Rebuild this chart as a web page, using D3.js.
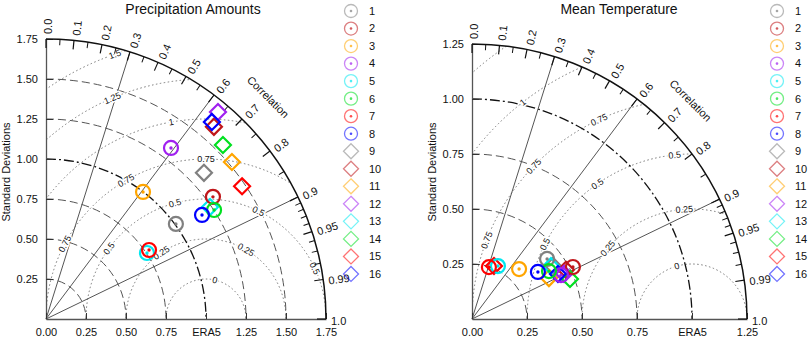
<!DOCTYPE html>
<html>
<head>
<meta charset="utf-8">
<script src="https://cdn.jsdelivr.net/npm/d3@7"></script>
<style>
body { margin: 0; background: #fff; }
svg { font-family: "Liberation Sans", Arial, sans-serif; }
</style>
</head>
<body>
<div id="chart"></div>
<script>
// model names and styles
const models = ["1", "2", "3", "4", "5", "6", "7", "8", "9", "10", "11", "12", "13", "14", "15", "16"];
const baseColors = ["#808080", "#c0161a", "#ffa500", "#a020f0", "#00e8f0", "#00e020", "#ff0000", "#0000ff"];
const modelColors = baseColors.concat(baseColors);
const modelShapes = models.map((d, i) => i < 8 ? "circle" : "diamond");

// precipitation: std dev (normalised) and correlation
const precipStd  = [1.006, 1.293, 0.999, 1.324, 0.754, 1.252, 0.775, 1.172,
                    1.345, 1.595, 1.521, 1.682, 1.241, 1.551, 1.480, 1.610];
const precipCorr = [0.807, 0.807, 0.607, 0.590, 0.837, 0.839, 0.831, 0.832,
                    0.734, 0.658, 0.764, 0.639, 0.826, 0.713, 0.828, 0.644];

// mean temperature
const tempStd  = [0.437, 0.516, 0.312, 0.451, 0.268, 0.412, 0.248, 0.368,
                  0.440, 0.482, 0.396, 0.466, 0.432, 0.481, 0.261, 0.441];
const tempCorr = [0.781, 0.889, 0.686, 0.897, 0.440, 0.849, 0.310, 0.814,
                  0.836, 0.886, 0.883, 0.898, 0.831, 0.926, 0.383, 0.886];

// correlation axis
const corrTicks = [0, 0.1, 0.2, 0.3, 0.4, 0.5, 0.6, 0.7, 0.8, 0.9, 0.95, 0.99, 1.0];
const corrTickLabels = ["0.0", "0.1", "0.2", "0.3", "0.4", "0.5", "0.6", "0.7", "0.8", "0.9", "0.95", "0.99", "1.0"];
const corrMinor = [0.05, 0.15, 0.25, 0.35, 0.45, 0.55, 0.65, 0.75, 0.85,
                   0.91, 0.92, 0.93, 0.94, 0.96, 0.97, 0.98];
const corrLines = [0.3, 0.6, 0.9];

const panels = [
    {
        id: "pr", title: "Precipitation Amounts", std: precipStd, corr: precipCorr,
        ox: 46, oy: 319, R: 280, maxStd: 1.75,
        yTicks: [0.25, 0.5, 0.75, 1, 1.25, 1.5, 1.75],
        xTicks: [0, 0.25, 0.5, 0.75, 1, 1.25, 1.5, 1.75],
        sdArcs: [0.25, 0.5, 0.75, 1, 1.25, 1.5],
        rmsRadii: [0.25, 0.5, 0.75, 1, 1.25, 1.5, 1.75],
        rmsLabels: [[0.25, 77], [0.5, 124], [0.5, 60], [0.75, 144], [0.75, 105], [0.75, 64], [0.75, 25],
                    [1, 152], [1, 120], [1, 90], [1.25, 100], [1.5, 113], [1.75, 109]]
    },
    {
        id: "tas", title: "Mean Temperature", std: tempStd, corr: tempCorr,
        ox: 472, oy: 319, R: 275, maxStd: 1.25,
        yTicks: [0.25, 0.5, 0.75, 1, 1.25],
        xTicks: [0, 0.25, 0.5, 0.75, 1, 1.25],
        sdArcs: [0.25, 0.5, 0.75, 1],
        rmsRadii: [0.25, 0.5, 0.75, 1, 1.25, 1.5],
        rmsLabels: [[0.25, 106], [0.5, 94], [0.5, 140], [0.75, 125], [0.75, 153], [0.75, 96],
                    [1, 115], [1, 159], [1, 136], [1.25, 128]]
    }
];

const svg = d3.select("#chart").append("svg")
    .attr("width", 809)
    .attr("height", 338);

const quarterArc = rr => `M0,${-rr}A${rr},${rr} 0 0 1 ${rr},0`;
const diamondPath = s => `M0,${-s}L${s},0L0,${s}L${-s},0Z`;

function drawPanel(cfg) {
    const R = cfg.R;
    const r = d3.scaleLinear().domain([0, cfg.maxStd]).range([0, R]);
    const g = svg.append("g").attr("transform", `translate(${cfg.ox},${cfg.oy})`);

    // clip to the quarter disc
    const clipId = "clip-" + cfg.id;
    g.append("clipPath").attr("id", clipId)
        .append("path")
        .attr("d", `M0,0L0,${-R}A${R},${R} 0 0 1 ${R},0Z`);

    // centred RMS circles around the reference
    const rmsG = g.append("g").attr("clip-path", `url(#${clipId})`);
    rmsG.selectAll("circle")
        .data(cfg.rmsRadii)
        .join("circle")
        .attr("cx", r(1))
        .attr("cy", 0)
        .attr("r", d => r(d))
        .attr("fill", "none")
        .attr("stroke", "#777")
        .attr("stroke-width", 1)
        .attr("stroke-dasharray", "1.5,2.5");

    // std dev arcs
    g.selectAll(".sd-arc")
        .data(cfg.sdArcs)
        .join("path")
        .attr("class", "sd-arc")
        .attr("d", d => quarterArc(r(d)))
        .attr("fill", "none")
        .attr("stroke", d => d === 1 ? "#111" : "#555")
        .attr("stroke-width", d => d === 1 ? 1.3 : 1)
        .attr("stroke-dasharray", d => d === 1 ? "10,3,2,3" : "8,4");

    // correlation rays
    g.selectAll(".corr-line")
        .data(corrLines)
        .join("line")
        .attr("class", "corr-line")
        .attr("x1", 0).attr("y1", 0)
        .attr("x2", d => R * d)
        .attr("y2", d => -R * Math.sin(Math.acos(d)))
        .attr("stroke", "#555")
        .attr("stroke-width", 1);

    // RMS labels
    g.selectAll(".rms-label")
        .data(cfg.rmsLabels)
        .join("text")
        .attr("class", "rms-label")
        .attr("transform", d => {
            const phi = d[1] * Math.PI / 180;
            const x = r(1) + r(d[0]) * Math.cos(phi);
            const y = -r(d[0]) * Math.sin(phi);
            return `translate(${x},${y}) rotate(${90 - d[1]})`;
        })
        .attr("text-anchor", "middle")
        .attr("dy", "0.35em")
        .attr("font-size", 9)
        .attr("fill", "#111")
        .attr("stroke", "#fff")
        .attr("stroke-width", 3)
        .attr("paint-order", "stroke")
        .text(d => String(+(d[0] - 0.25).toFixed(2)));

    // axes
    const yScale = d3.scaleLinear().domain([0, cfg.maxStd]).range([0, -R]);
    const yAxis = g.append("g")
        .call(d3.axisLeft(yScale)
            .tickValues(cfg.yTicks)
            .tickSize(-7)
            .tickSizeOuter(0)
            .tickPadding(8)
            .tickFormat(d3.format(".2f")));
    const xScale = d3.scaleLinear().domain([0, cfg.maxStd]).range([0, R]);
    const xAxis = g.append("g")
        .call(d3.axisBottom(xScale)
            .tickValues(cfg.xTicks)
            .tickSize(-6)
            .tickSizeOuter(0)
            .tickPadding(9)
            .tickFormat(d => d === 1 ? "ERA5" : d3.format(".2f")(d)));
    [yAxis, xAxis].forEach(ax => {
        ax.attr("font-family", null).attr("font-size", 11);
        ax.select(".domain").attr("stroke", "#555").attr("stroke-width", 1.3);
        ax.selectAll(".tick line").attr("stroke", "#333");
        ax.selectAll(".tick text").attr("fill", "#111");
    });

    // outer arc
    g.append("path")
        .attr("d", quarterArc(R))
        .attr("fill", "none")
        .attr("stroke", "#111")
        .attr("stroke-width", 1.5);

    // correlation ticks
    g.selectAll(".corr-minor")
        .data(corrMinor)
        .join("line")
        .attr("class", "corr-minor")
        .attr("transform", d => `rotate(${-Math.acos(d) * 180 / Math.PI})`)
        .attr("x1", R - 6).attr("x2", R)
        .attr("stroke", "#111");
    g.selectAll(".corr-major")
        .data(corrTicks)
        .join("line")
        .attr("class", "corr-major")
        .attr("transform", d => `rotate(${-Math.acos(d) * 180 / Math.PI})`)
        .attr("x1", R - 9).attr("x2", R)
        .attr("stroke", "#111")
        .attr("stroke-width", 1.2);
    g.selectAll(".corr-label")
        .data(corrTicks)
        .join("text")
        .attr("class", "corr-label")
        .attr("transform", d => `rotate(${-Math.acos(d) * 180 / Math.PI}) translate(${R + 5},2)`)
        .attr("dy", "0.35em")
        .attr("font-size", 11)
        .attr("fill", "#111")
        .text((d, i) => corrTickLabels[i]);

    g.append("text")
        .attr("transform", `rotate(-45) translate(${R + 34},0) rotate(90)`)
        .attr("text-anchor", "middle")
        .attr("dy", "0.35em")
        .attr("font-size", 11)
        .attr("fill", "#111")
        .text("Correlation");

    g.append("text")
        .attr("transform", `translate(-40,-147) rotate(-90)`)
        .attr("text-anchor", "middle")
        .attr("dy", "0.35em")
        .attr("font-size", 11)
        .attr("fill", "#111")
        .text("Standard Deviations");

    g.append("text")
        .attr("x", 147)
        .attr("y", 14 - cfg.oy)
        .attr("text-anchor", "middle")
        .attr("font-size", 14)
        .attr("fill", "#111")
        .text(cfg.title);

    // model markers: diamonds first, circles on top
    const pts = models.map((m, i) => {
        const t = Math.acos(cfg.corr[i]);
        return {
            m, i,
            x: r(cfg.std[i]) * Math.cos(t),
            y: -r(cfg.std[i]) * Math.sin(t),
            color: modelColors[i],
            shape: modelShapes[i]
        };
    });
    const order = pts.filter(p => p.shape === "diamond").concat(pts.filter(p => p.shape === "circle"));
    const mk = g.selectAll(".marker")
        .data(order)
        .join("g")
        .attr("class", "marker")
        .attr("transform", d => `translate(${d.x},${d.y})`);
    mk.filter(d => d.shape === "circle").append("circle")
        .attr("r", 7)
        .attr("fill", "none")
        .attr("stroke", d => d.color)
        .attr("stroke-width", 2.2);
    mk.filter(d => d.shape === "circle").append("circle")
        .attr("r", 1.7)
        .attr("fill", d => d.color);
    mk.filter(d => d.shape === "diamond").append("path")
        .attr("d", diamondPath(8))
        .attr("fill", "none")
        .attr("stroke", d => d.color)
        .attr("stroke-width", 2.2);

    // legend
    const leg = svg.append("g")
        .attr("transform", `translate(${cfg.ox + 305},11)`);
    const row = leg.selectAll("g")
        .data(models)
        .join("g")
        .attr("transform", (d, i) => `translate(0,${i * 17.53})`);
    row.filter((d, i) => modelShapes[i] === "circle").append("circle")
        .attr("r", 6.5)
        .attr("fill", "none")
        .attr("stroke", (d, i) => modelColors[i])
        .attr("stroke-opacity", 0.55)
        .attr("stroke-width", 1.3);
    row.filter((d, i) => modelShapes[i] === "circle").append("circle")
        .attr("r", 1.3)
        .attr("fill", (d, i) => modelColors[i])
        .attr("fill-opacity", 0.7);
    row.filter((d, i) => modelShapes[i] === "diamond").append("path")
        .attr("d", diamondPath(7.5))
        .attr("fill", "none")
        .attr("stroke", (d, i) => modelColors[i + 8])
        .attr("stroke-opacity", 0.55)
        .attr("stroke-width", 1.3);
    row.append("text")
        .attr("x", 18)
        .attr("dy", "0.35em")
        .attr("font-size", 11)
        .attr("fill", "#111")
        .text(d => d);
}

panels.forEach(drawPanel);
</script>
</body>
</html>
